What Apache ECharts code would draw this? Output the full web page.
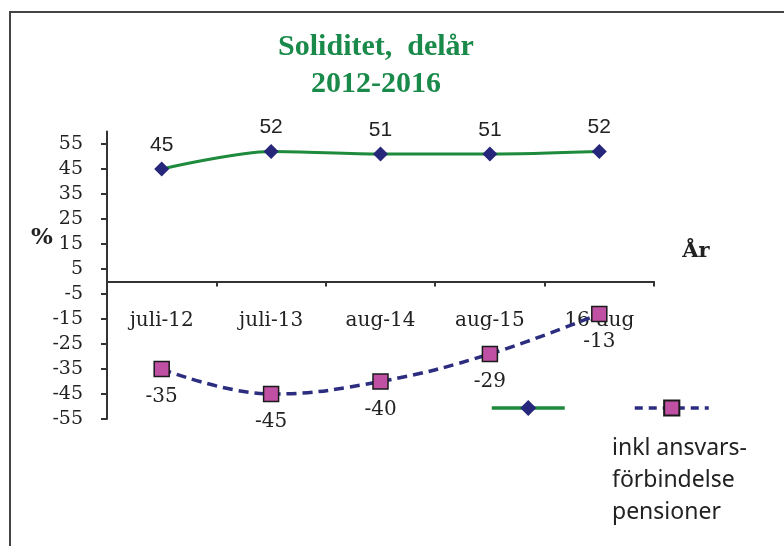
<!DOCTYPE html>
<html>
<head>
<meta charset="utf-8">
<script src="https://cdn.jsdelivr.net/npm/echarts@6/dist/echarts.min.js"></script>
<style>
html,body{margin:0;padding:0;background:#fff;}
#main{width:784px;height:546px;}
</style>
</head>
<body>
<div id="main"></div>
<script>
// data
var categories = ['juli-12', 'juli-13', 'aug-14', 'aug-15', '16-aug'];
var soliditet = [45, 52, 51, 51, 52];
var inklPension = [-35, -45, -40, -29, -13];
var yTicks = [-55, -45, -35, -25, -15, -5, 5, 15, 25, 35, 45, 55];
var name1 = 'Soliditet';
var name2 = 'inkl ansvars-förbindelse pensioner';

var myChart = echarts.init(document.getElementById('main'));
var option = {
	animation: false,
	backgroundColor: '#fff',
	grid: {
		left: 107,
		right: 130,
		top: 131.5,
		bottom: 127
	},
	legend: [{
		data: [name1],
		left: 490,
		top: 398,
		padding: 0,
		itemWidth: 73,
		itemHeight: 20,
		lineStyle: { width: 3.5, color: '#1d8a3c' },
		formatter: function(){ return ''; }
	}, {
		data: [name2],
		left: 633,
		top: 398.5,
		padding: 0,
		itemWidth: 74,
		itemHeight: 19,
		lineStyle: { width: 3.5, color: '#2d2d80', type: [8, 6] },
		formatter: function(){ return ''; }
	}],
	xAxis: {
		type: 'category',
		data: categories,
		boundaryGap: true,
		axisLine: { onZero: true, lineStyle: { color: '#333', width: 2 } },
		axisTick: { show: true, length: 5, lineStyle: { color: '#333', width: 2 } },
		axisLabel: {
			// labels sit under the zero line, not under the grid
			margin: -108,
			color: '#222',
			fontFamily: 'DejaVu Serif',
			fontSize: 20
		},
		splitLine: { show: false }
	},
	yAxis: {
		type: 'value',
		min: -55,
		max: 60,
		interval: 10,
		axisLine: { show: true, onZero: false, lineStyle: { color: '#333', width: 2 } },
		axisTick: { show: true, length: 6, customValues: yTicks, lineStyle: { color: '#333', width: 2 } },
		axisLabel: {
			margin: 24,
			color: '#222',
			fontFamily: 'DejaVu Serif',
			fontSize: 19,
			customValues: yTicks
		},
		splitLine: { show: false }
	},
	series: [{
		name: name1,
		type: 'line',
		data: soliditet,
		smooth: 0.3,
		symbol: 'diamond',
		symbolSize: 15,
		lineStyle: { color: '#1d8a3c', width: 3 },
		itemStyle: { color: '#26267a' },
		label: {
			show: true,
			position: 'top',
			distance: 6,
			color: '#222',
			fontFamily: 'Liberation Sans',
			fontSize: 21
		}
	}, {
		name: name2,
		type: 'line',
		data: inklPension,
		smooth: 0.4,
		symbol: 'rect',
		symbolSize: 15,
		lineStyle: { color: '#2d2d80', width: 3.5, type: [10, 6] },
		itemStyle: { color: '#c050a4', borderColor: '#1a1a1a', borderWidth: 1.5 },
		label: {
			show: true,
			position: 'bottom',
			distance: 10,
			color: '#222',
			fontFamily: 'DejaVu Serif',
			fontSize: 20
		}
	}],
	graphic: [{
		type: 'polyline',
		shape: { points: [[10, 546], [10, 12], [784, 12]] },
		style: { stroke: '#444', lineWidth: 2, fill: null },
		silent: true
	}, {
		type: 'text',
		x: 376, y: 47,
		style: {
			text: 'Soliditet,  delår',
			fill: '#1a8a4a',
			font: 'bold 30px "Liberation Serif"',
			textAlign: 'center',
			textVerticalAlign: 'middle'
		}
	}, {
		type: 'text',
		x: 376, y: 84,
		style: {
			text: '2012-2016',
			fill: '#1a8a4a',
			font: 'bold 30px "Liberation Serif"',
			textAlign: 'center',
			textVerticalAlign: 'middle'
		}
	}, {
		type: 'text',
		x: 42, y: 238,
		style: {
			text: '%',
			fill: '#222',
			font: 'bold 23px "DejaVu Serif"',
			textAlign: 'center',
			textVerticalAlign: 'middle'
		}
	}, {
		type: 'text',
		x: 696, y: 252,
		style: {
			text: 'År',
			fill: '#222',
			font: 'bold 21px "DejaVu Serif"',
			textAlign: 'center',
			textVerticalAlign: 'middle'
		}
	}, {
		type: 'text',
		x: 612, y: 432,
		style: {
			text: 'inkl ansvars-\nförbindelse\npensioner',
			fill: '#222',
			font: '23px "Noto Sans"',
			lineHeight: 32,
			textAlign: 'left',
			textVerticalAlign: 'top'
		}
	}]
};
myChart.setOption(option);
</script>
</body>
</html>
